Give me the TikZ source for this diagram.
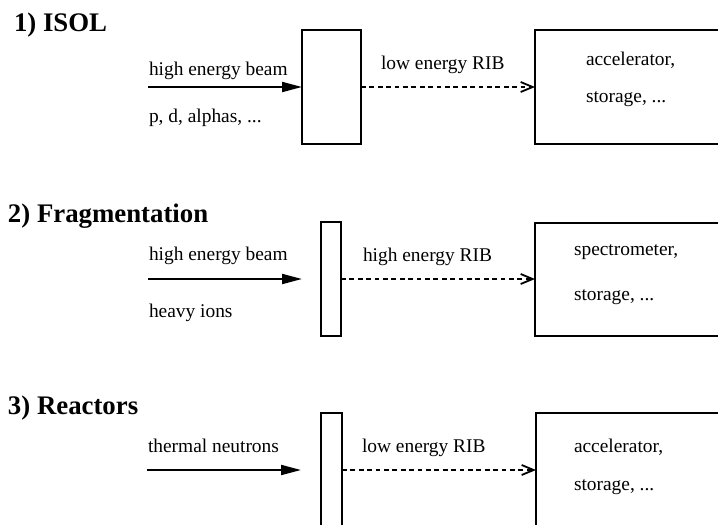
\documentclass[tikz,border=0pt]{standalone}
\usepackage{fontspec}
\setmainfont{Liberation Serif}
\usetikzlibrary{arrows.meta}

\begin{document}
\begin{tikzpicture}[x=0.5pt, y=-0.5pt, line width=1pt]
	\tikzstyle{target} = [draw, rectangle, inner sep=0, outer sep=0]
	\tikzstyle{store} = [draw, rectangle, inner sep=0, outer sep=0, minimum width=100pt]
	\tikzstyle{beam} = [line width=1pt, -{Triangle[length=10pt, width=5pt]}]
	\tikzstyle{rib} = [line width=1pt, dash pattern=on 2.4pt off 1.8pt, -{Straight Barb[length=6pt, width=5pt, line width=0.9pt]}]
	\tikzstyle{heading} = [anchor=base west, inner sep=0, font=\fontsize{13.4}{16}\selectfont\bfseries]
	\tikzstyle{lbl} = [anchor=base west, inner sep=0, font=\fontsize{9.7}{12}\selectfont]
	\clip (0,0) rectangle (718,525);
	% 1) ISOL
	\node[target, minimum width=29.5pt, minimum height=57pt] (isol) at (331.5,87) {};
	\node[store, minimum height=57pt] (isolstore) at (635,87) {};
	\coordinate (isolin) at (148,87);
	\draw[beam] (isolin) -- (isol.west);
	\draw[rib] (isol.east) -- (isolstore.west);
	% 2) Fragmentation
	\node[target, minimum width=10pt, minimum height=57pt] (frag) at (331,279) {};
	\node[store, minimum height=56.5pt] (fragstore) at (635,279) {};
	\coordinate (fragin) at (148,279);
	\coordinate (fragout) at (302,279);
	\draw[beam] (fragin) -- (fragout);
	\draw[rib] (frag.east) -- (fragstore.west);
	% 3) Reactors
	\node[target, minimum width=10.5pt, minimum height=57pt] (reac) at (331.5,470) {};
	\node[store, minimum height=57pt] (reacstore) at (636,470) {};
	\coordinate (reacin) at (147,470);
	\coordinate (reacout) at (301,470);
	\draw[beam] (reacin) -- (reacout);
	\draw[rib] (reac.east) -- (reacstore.west);
	% texts
	\foreach \x/\y/\t [count=\i] in {13/31/{1) ISOL}, 7/222/{2) Fragmentation}, 7/414/{3) Reactors}}
		{\node[heading] (head\i) at (\x,\y) {\t}; }
	\foreach \x/\y/\t [count=\i] in {148/75/{high energy beam}, 148/122/{p, d, alphas, ...},
		380/69/{low energy RIB}, 585/65/{accelerator,}, 585/102/{storage, ...},
		148/260/{high energy beam}, 148/317/{heavy ions}, 362/261/{high energy RIB},
		573/255/{spectrometer,}, 573/300/{storage, ...},
		147/452/{thermal neutrons}, 361/452/{low energy RIB}, 573/452/{accelerator,},
		573/490/{storage, ...}}
		{\node[lbl] (txt\i) at (\x,\y) {\t}; }
\end{tikzpicture}
\end{document}
